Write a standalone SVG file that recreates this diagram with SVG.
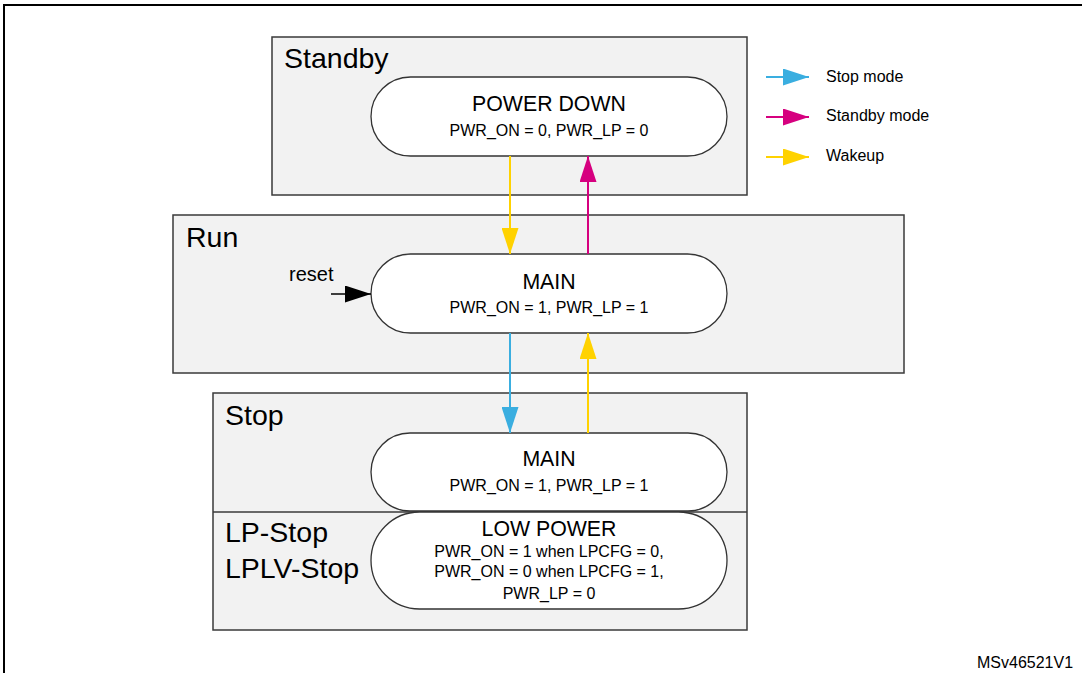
<svg xmlns="http://www.w3.org/2000/svg" width="1082" height="673" viewBox="0 0 1082 673">
<style>
text{font-family:"Liberation Sans",Arial,sans-serif;fill:#000}
.box{fill:#f2f2f2;stroke:#3a3a3a;stroke-width:1.5}
.pill{fill:#fff;stroke:#333;stroke-width:1.3}
.zone{font-size:28.5px}
.title{font-size:21.3px;text-anchor:middle}
.sub{font-size:16px;text-anchor:middle}
.leg{font-size:16px}
.c{fill:none;stroke-width:2}
</style>
<defs>
<marker id="mb" markerUnits="userSpaceOnUse" markerWidth="26" markerHeight="17" refX="26" refY="8.5" orient="auto"><path d="M0,0 L26,8.5 L0,17 z" fill="#3aaee0"/></marker>
<marker id="mm" markerUnits="userSpaceOnUse" markerWidth="26" markerHeight="17" refX="26" refY="8.5" orient="auto"><path d="M0,0 L26,8.5 L0,17 z" fill="#d6007f"/></marker>
<marker id="my" markerUnits="userSpaceOnUse" markerWidth="26" markerHeight="17" refX="26" refY="8.5" orient="auto"><path d="M0,0 L26,8.5 L0,17 z" fill="#ffd200"/></marker>
<marker id="mk" markerUnits="userSpaceOnUse" markerWidth="26" markerHeight="17" refX="26" refY="8.5" orient="auto"><path d="M0,0 L26,8.5 L0,17 z" fill="#000"/></marker>
</defs>
<rect width="1082" height="673" fill="#fff"/>
<path d="M4,673 V5 H1082" fill="none" stroke="#000" stroke-width="2"/>

<g id="standby">
<rect class="box" x="272" y="37" width="475" height="158"/>
<text class="zone" x="284" y="68">Standby</text>
</g>
<g id="run">
<rect class="box" x="173" y="215" width="731" height="158"/>
<text class="zone" x="186" y="247">Run</text>
<text x="289" y="281" style="font-size:20px">reset</text>
</g>
<g id="stop">
<rect class="box" x="213" y="393" width="534" height="237"/>
<line x1="213" y1="512" x2="747" y2="512" stroke="#3a3a3a" stroke-width="1.5"/>
<text class="zone" x="225" y="425">Stop</text>
<text class="zone" x="225" y="542">LP-Stop</text>
<text class="zone" x="225" y="578">LPLV-Stop</text>
</g>

<g id="power-down">
<rect class="pill" x="371" y="77" width="356" height="79" rx="39.5"/>
<text class="title" x="549" y="111">POWER DOWN</text>
<text class="sub" x="549" y="136">PWR_ON = 0, PWR_LP = 0</text>
</g>
<g id="run-main">
<rect class="pill" x="371" y="254" width="356" height="79" rx="39.5"/>
<text class="title" x="549" y="289">MAIN</text>
<text class="sub" x="549" y="313">PWR_ON = 1, PWR_LP = 1</text>
</g>
<g id="stop-main">
<rect class="pill" x="371" y="433" width="356" height="78" rx="39"/>
<text class="title" x="549" y="466">MAIN</text>
<text class="sub" x="549" y="491">PWR_ON = 1, PWR_LP = 1</text>
</g>
<g id="low-power">
<rect class="pill" x="371" y="512" width="356" height="97" rx="48.5"/>
<text class="title" x="549" y="536">LOW POWER</text>
<text class="sub" x="549" y="557">PWR_ON = 1 when LPCFG = 0,</text>
<text class="sub" x="549" y="577">PWR_ON = 0 when LPCFG = 1,</text>
<text class="sub" x="549" y="599">PWR_LP = 0</text>
</g>

<g id="legend">
<line class="c" x1="766" y1="77" x2="809" y2="77" stroke="#3aaee0" marker-end="url(#mb)"/>
<text class="leg" x="826" y="82">Stop mode</text>
<line class="c" x1="766" y1="117" x2="809" y2="117" stroke="#d6007f" marker-end="url(#mm)"/>
<text class="leg" x="826" y="121">Standby mode</text>
<line class="c" x1="766" y1="157" x2="809" y2="157" stroke="#ffd200" marker-end="url(#my)"/>
<text class="leg" x="826" y="161">Wakeup</text>
</g>

<g id="connectors">
<line class="c" x1="510" y1="156" x2="510" y2="254" stroke="#ffd200" marker-end="url(#my)"/>
<line class="c" x1="588" y1="254" x2="588" y2="156" stroke="#d6007f" marker-end="url(#mm)"/>
<line class="c" x1="510" y1="333" x2="510" y2="433" stroke="#3aaee0" marker-end="url(#mb)"/>
<line class="c" x1="588" y1="433" x2="588" y2="333" stroke="#ffd200" marker-end="url(#my)"/>
<line x1="331" y1="294" x2="371" y2="294" stroke="#000" stroke-width="1.5" marker-end="url(#mk)"/>
</g>

<text x="977" y="668" style="font-size:16px">MSv46521V1</text>
</svg>
